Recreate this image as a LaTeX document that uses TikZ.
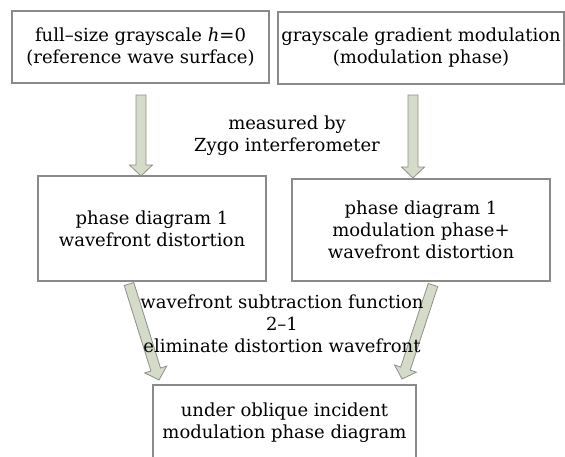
\documentclass[tikz,border=0pt]{standalone}
\usepackage{fontspec}
\setmainfont{DejaVu Serif}
\usetikzlibrary{calc}
\definecolor{boxline}{HTML}{8A8A8A}
\definecolor{arrfill}{HTML}{D4DBC9}
\definecolor{arrline}{HTML}{8E9088}
\tikzset{
  boxst/.style={draw=boxline, line width=1.1pt, fill=white},
  txt/.style={align=center, font=\fontsize{18}{22}\selectfont, text=black, inner sep=0pt},
  arrst/.style={fill=arrfill, draw=arrline, line width=0.8pt, line join=miter},
}
\newcommand\blockarr[2]{%
  \coordinate (tmph) at ($(#2)!11pt!(#1)$);
  \path[arrst] ($(#1)!5pt!90:(#2)$) -- ($(tmph)!5pt!90:(#2)$) -- ($(tmph)!11.5pt!90:(#2)$)
    -- (#2) -- ($(tmph)!11.5pt!-90:(#2)$) -- ($(tmph)!5pt!-90:(#2)$) -- ($(#1)!5pt!-90:(#2)$) -- cycle;}
\begin{document}
\begin{tikzpicture}[x=1pt,y=-1pt]
\useasboundingbox (0,0) rectangle (565,456);
% boxes
\draw[boxst] (12,11) rectangle (269,83);
\draw[boxst] (278,12) rectangle (564,84);
\draw[boxst] (38,176) rectangle (266,281);
\draw[boxst] (292,179) rectangle (550,281);
\draw[boxst] (153,385) rectangle (416,470);
% arrows
\coordinate (a1s) at (141,95);  \coordinate (a1e) at (141,176);
\coordinate (a2s) at (413,95);  \coordinate (a2e) at (413,178);
\coordinate (a3s) at (129,284); \coordinate (a3e) at (159,380);
\coordinate (a4s) at (433,285); \coordinate (a4e) at (402,379);
\blockarr{a1s}{a1e}
\blockarr{a2s}{a2e}
\blockarr{a3s}{a3e}
\blockarr{a4s}{a4e}
% texts
\node[txt] (b1) at (140.5,47) {full–size grayscale \textit{h}=0\\(reference wave surface)};
\node[txt] (b2) at (421,48) {grayscale gradient modulation\\(modulation phase)};
\node[txt] (b3) at (152,228.5) {phase diagram 1\\wavefront distortion};
\node[txt] (b4) at (421,230) {phase diagram 1\\modulation phase+\\wavefront distortion};
\node[txt] (b5) at (284.5,423) {under oblique incident\\modulation phase diagram};
\node[txt] (m1) at (287,136) {measured by\\Zygo interferometer};
\node[txt] (m2) at (282,324) {wavefront subtraction function\\2–1\\eliminate distortion wavefront};
\end{tikzpicture}
\end{document}
